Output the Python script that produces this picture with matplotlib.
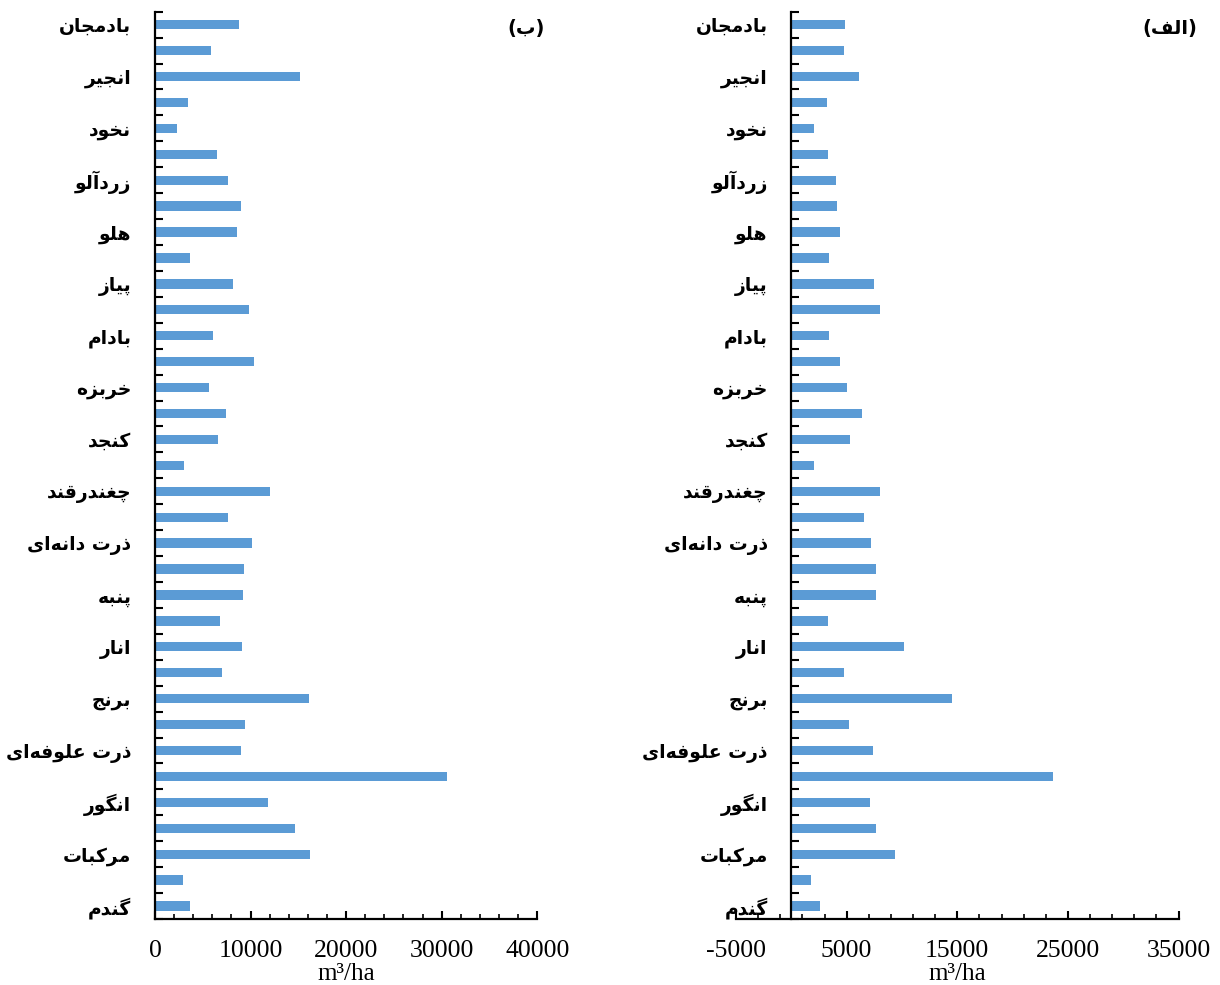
import numpy as np
import matplotlib.pyplot as plt

plt.rcParams['font.family'] = ['Liberation Serif', 'DejaVu Sans']

# crop names, one per bar (only every other bar carries a label)
crops = ['بادمجان', '', 'انجیر', '', 'نخود', '', 'زردآلو', '', 'هلو', '',
         'پیاز', '', 'بادام', '', 'خربزه', '', 'کنجد', '', 'چغندرقند', '',
         'ذرت دانه\u200cای', '', 'پنبه', '', 'انار', '', 'برنج', '',
         'ذرت علوفه\u200cای', '', 'انگور', '', 'مرکبات', '', 'گندم']

# panel (ب), m3/ha
water_b = [8790, 5890, 15210, 3450, 2270, 6450, 7640, 9000, 8540, 3700,
           8160, 9870, 6070, 10360, 5610, 7390, 6590, 3030, 12000, 7640,
           10110, 9310, 9240, 6770, 9070, 7010, 16110, 9450, 8970, 30550,
           11820, 14610, 16220, 2930, 3630]

# panel (الف), m3/ha
water_alef = [4880, 4760, 6140, 3190, 2020, 3280, 4030, 4130, 4370, 3370,
              7440, 8040, 3370, 4430, 5030, 6350, 5330, 2020, 8010, 6560,
              7230, 7650, 7650, 3310, 10210, 4760, 14540, 5240, 7380, 23670,
              7140, 7650, 9390, 1780, 2590]

# contextual forms: isolated, final, initial, medial (right-joining letters have two)
FORMS = {
    'ا': '\uFE8D\uFE8E', 'آ': '\uFE81\uFE82',
    'د': '\uFEA9\uFEAA', 'ذ': '\uFEAB\uFEAC', 'ر': '\uFEAD\uFEAE',
    'ز': '\uFEAF\uFEB0', 'و': '\uFEED\uFEEE',
    'ب': '\uFE8F\uFE90\uFE91\uFE92', 'پ': '\uFB56\uFB57\uFB58\uFB59',
    'ت': '\uFE95\uFE96\uFE97\uFE98', 'ج': '\uFE9D\uFE9E\uFE9F\uFEA0',
    'چ': '\uFB7A\uFB7B\uFB7C\uFB7D', 'خ': '\uFEA5\uFEA6\uFEA7\uFEA8',
    'ع': '\uFEC9\uFECA\uFECB\uFECC', 'غ': '\uFECD\uFECE\uFECF\uFED0',
    'ف': '\uFED1\uFED2\uFED3\uFED4', 'ق': '\uFED5\uFED6\uFED7\uFED8',
    'ک': '\uFB8E\uFB8F\uFB90\uFB91', 'گ': '\uFB92\uFB93\uFB94\uFB95',
    'ل': '\uFEDD\uFEDE\uFEDF\uFEE0', 'م': '\uFEE1\uFEE2\uFEE3\uFEE4',
    'ن': '\uFEE5\uFEE6\uFEE7\uFEE8', 'ه': '\uFEE9\uFEEA\uFEEB\uFEEC',
    'ی': '\uFBFC\uFBFD\uFBFE\uFBFF',
}


def fa(text):
    out = []
    for i, c in enumerate(text):
        if c not in FORMS:
            out.append(c)
            continue
        prev = text[i - 1] if i > 0 else ''
        nxt = text[i + 1] if i + 1 < len(text) else ''
        f = FORMS[c]
        join_prev = prev in FORMS and len(FORMS[prev]) == 4
        join_next = len(f) == 4 and nxt in FORMS
        if join_prev and join_next:
            out.append(f[3])
        elif join_prev:
            out.append(f[1])
        elif join_next:
            out.append(f[2])
        else:
            out.append(f[0])
    return ''.join(out).replace('\u200c', '')[::-1]


def panel(ax, vals, xmin, xmax, tag, tag_x):
    n = len(vals)
    y = np.arange(n) + 0.5
    ax.barh(y, vals, height=0.36, color='#5B9BD5')
    ax.set_ylim(n, 0)
    ax.set_xlim(xmin, xmax)

    for s in ['top', 'right']:
        ax.spines[s].set_visible(False)
    ax.spines['left'].set_linewidth(1.6)
    ax.spines['bottom'].set_linewidth(1.6)
    if xmin < 0:
        ax.spines['left'].set_position(('data', 0))

    ax.set_yticks(np.arange(n + 1))
    ax.set_yticks(y, [fa(c) for c in crops], minor=True,
                  fontfamily='DejaVu Sans', fontweight='bold', fontsize=13.5)
    ax.tick_params(axis='y', which='major', direction='in', length=6,
                   width=1.5, labelleft=False)
    ax.tick_params(axis='y', which='minor', length=0, pad=17)

    major = np.arange(xmin, xmax + 1, 10000)
    ax.set_xticks(major, [str(v) for v in major], fontsize=18.5)
    ax.set_xticks(np.arange(xmin, xmax + 1, 2000), minor=True)
    ax.tick_params(axis='x', which='major', direction='in', length=6,
                   width=1.5, pad=15)
    ax.tick_params(axis='x', which='minor', direction='in', length=3.5,
                   width=1.2)
    ax.set_xlabel('m³/ha', fontsize=18, labelpad=0.5)

    ax.text(tag_x, 0.992, '(' + fa(tag) + ')', transform=ax.transAxes,
            ha='right', va='top', fontfamily='DejaVu Sans',
            fontweight='bold', fontsize=14)


fig = plt.figure(figsize=(12.2, 9.85), dpi=100)
ax_b = fig.add_axes([0.1270, 0.0670, 0.3134, 0.9211])
ax_a = fig.add_axes([0.6033, 0.0670, 0.3627, 0.9211])

panel(ax_b, water_b, 0, 40000, 'ب', 1.02)
panel(ax_a, water_alef, -5000, 35000, 'الف', 1.042)

fig.savefig('out.png', dpi=100)
